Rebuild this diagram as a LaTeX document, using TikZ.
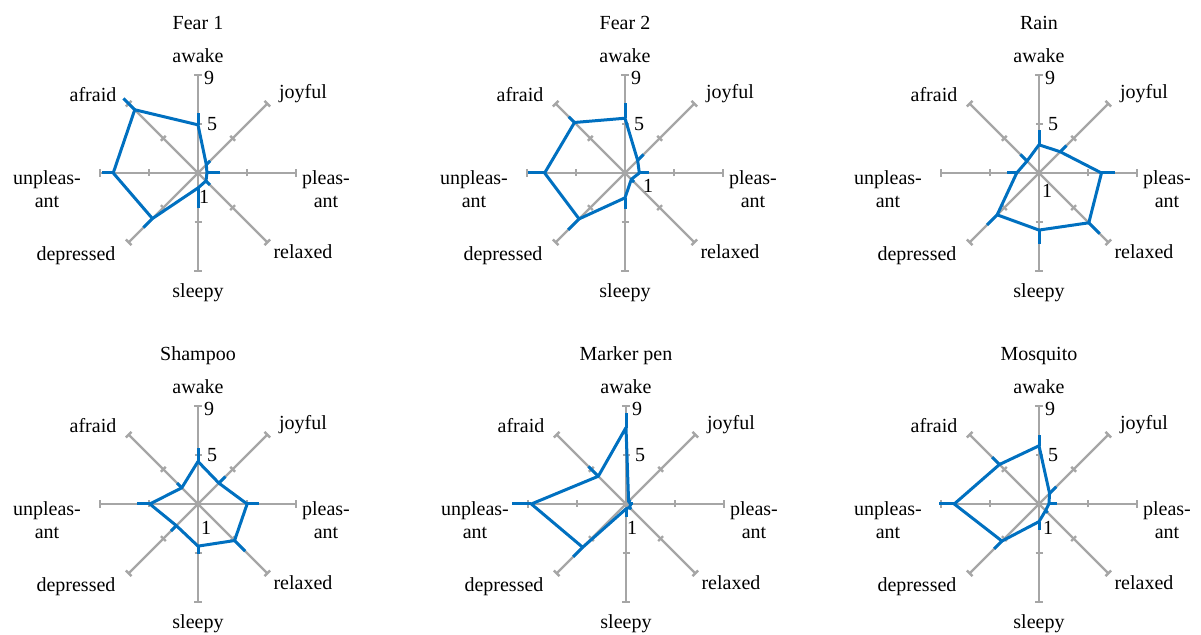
\documentclass[tikz,border=0pt]{standalone}
\usepackage{fontspec}
\setmainfont{Liberation Serif}
\usetikzlibrary{positioning}
\definecolor{axisgray}{HTML}{A6A6A6}
\definecolor{datablue}{HTML}{0070C0}

\tikzset{
  axisline/.style={draw=axisgray, line width=1.2pt},
  dataline/.style={draw=datablue, line width=1.5pt, line join=round},
  errbar/.style={draw=datablue, line width=1.5pt},
  axislabel/.style={font=\fontsize{10}{11.5}\selectfont, align=center, inner sep=0pt},
  ticklabel/.style={font=\fontsize{10}{11.5}\selectfont, inner sep=0pt},
}

% #1 name, #2 centre, #3 title, #4 place of the 1, #5 mean/upper per axis
\newcommand{\radarchart}[5]{%
  \begin{scope}[shift={#2}]
    \foreach \ang in {90,45,...,-225} {
      \begin{scope}[rotate=\ang]
        \draw[axisline] (0,0) -- (98,0);
        \draw[axisline] (49,-3.5) -- (49,3.5);
        \draw[axisline] (98,-4) -- (98,4);
      \end{scope}
    }
    \foreach \m/\e [count=\i] in {#5} {
      \coordinate (#1-m\i) at ({135-45*\i}:{(\m-1)*12.25});
      \coordinate (#1-e\i) at ({135-45*\i}:{(\e-1)*12.25});
    }
    \draw[dataline] (#1-m1) -- (#1-m2) -- (#1-m3) -- (#1-m4) -- (#1-m5)
      -- (#1-m6) -- (#1-m7) -- (#1-m8) -- cycle;
    \foreach \i in {1,...,8}
      \draw[errbar] (#1-m\i) -- (#1-e\i);
    \node[ticklabel] (#1-nine) at (11,95) {9};
    \node[ticklabel] (#1-five) at (14,49) {5};
    \node[ticklabel] (#1-one) at #4 {1};
    \node[axislabel, anchor=base] (#1-title) at (0,143) {#3};
    \node[axislabel, anchor=base] (#1-awake) at (0,110) {awake};
    \node[axislabel, anchor=base] (#1-joyful) at (105,74) {joyful};
    \node[axislabel] (#1-pleasant) at (128,-16) {pleas-\\ant};
    \node[axislabel, anchor=base] (#1-relaxed) at (105,-86) {relaxed};
    \node[axislabel, anchor=base] (#1-sleepy) at (0,-125) {sleepy};
    \node[axislabel, anchor=base] (#1-depressed) at (-122,-88) {depressed};
    \node[axislabel] (#1-unpleasant) at (-151,-16) {unpleas-\\ant};
    \node[axislabel, anchor=base] (#1-afraid) at (-105,71) {afraid};
  \end{scope}}

\begin{document}
\begin{tikzpicture}[x=0.5pt, y=0.5pt]
  \useasboundingbox (0,0) rectangle (1201,635);

  % top row
  \radarchart{fearone}{(198,462)}{Fear 1}{(6,-24)}
    {4.93/5.88, 1.96/2.4, 1.73/2.76, 1.92/2.38, 2.22/3.85, 6.26/7.3, 7.92/8.86, 8.3/9.6}
  \radarchart{feartwo}{(625,462)}{Fear 2}{(23,-13)}
    {5.47/6.7, 2.46/3.14, 2.17/2.93, 1.73/2.05, 3.03/3.9, 6.3/7.56, 7.56/8.92, 6.83/7.5}
  \radarchart{rain}{(1039,462)}{Rain}{(8,-18)}
    {3.3/4.47, 3.45/4.17, 6.1/7.24, 6.75/8.0, 5.66/6.83, 5.83/7.0, 2.82/3.63, 2.38/3.14}

  % bottom row
  \radarchart{shampoo}{(198,131)}{Shampoo}{(8,-24)}
    {4.47/5.56, 3.41/4.17, 5.01/5.96, 5.22/6.45, 4.44/5.12, 3.5/4.13, 4.93/6.02, 2.87/3.41}
  \radarchart{marker}{(626,131)}{Marker pen}{(6,-24)}
    {7.24/8.46, 1.3/1.5, 1.4/1.6, 1.4/1.6, 1.4/2.1, 6.0/7.1, 8.73/10.33, 4.2/5.34}
  \radarchart{mosquito}{(1039,131)}{Mosquito}{(9,-24)}
    {5.75/6.67, 2.22/3.0, 1.81/2.44, 1.76/2.0, 2.44/3.1, 5.28/6.18, 7.92/9.14, 5.56/6.4}
\end{tikzpicture}
\end{document}
